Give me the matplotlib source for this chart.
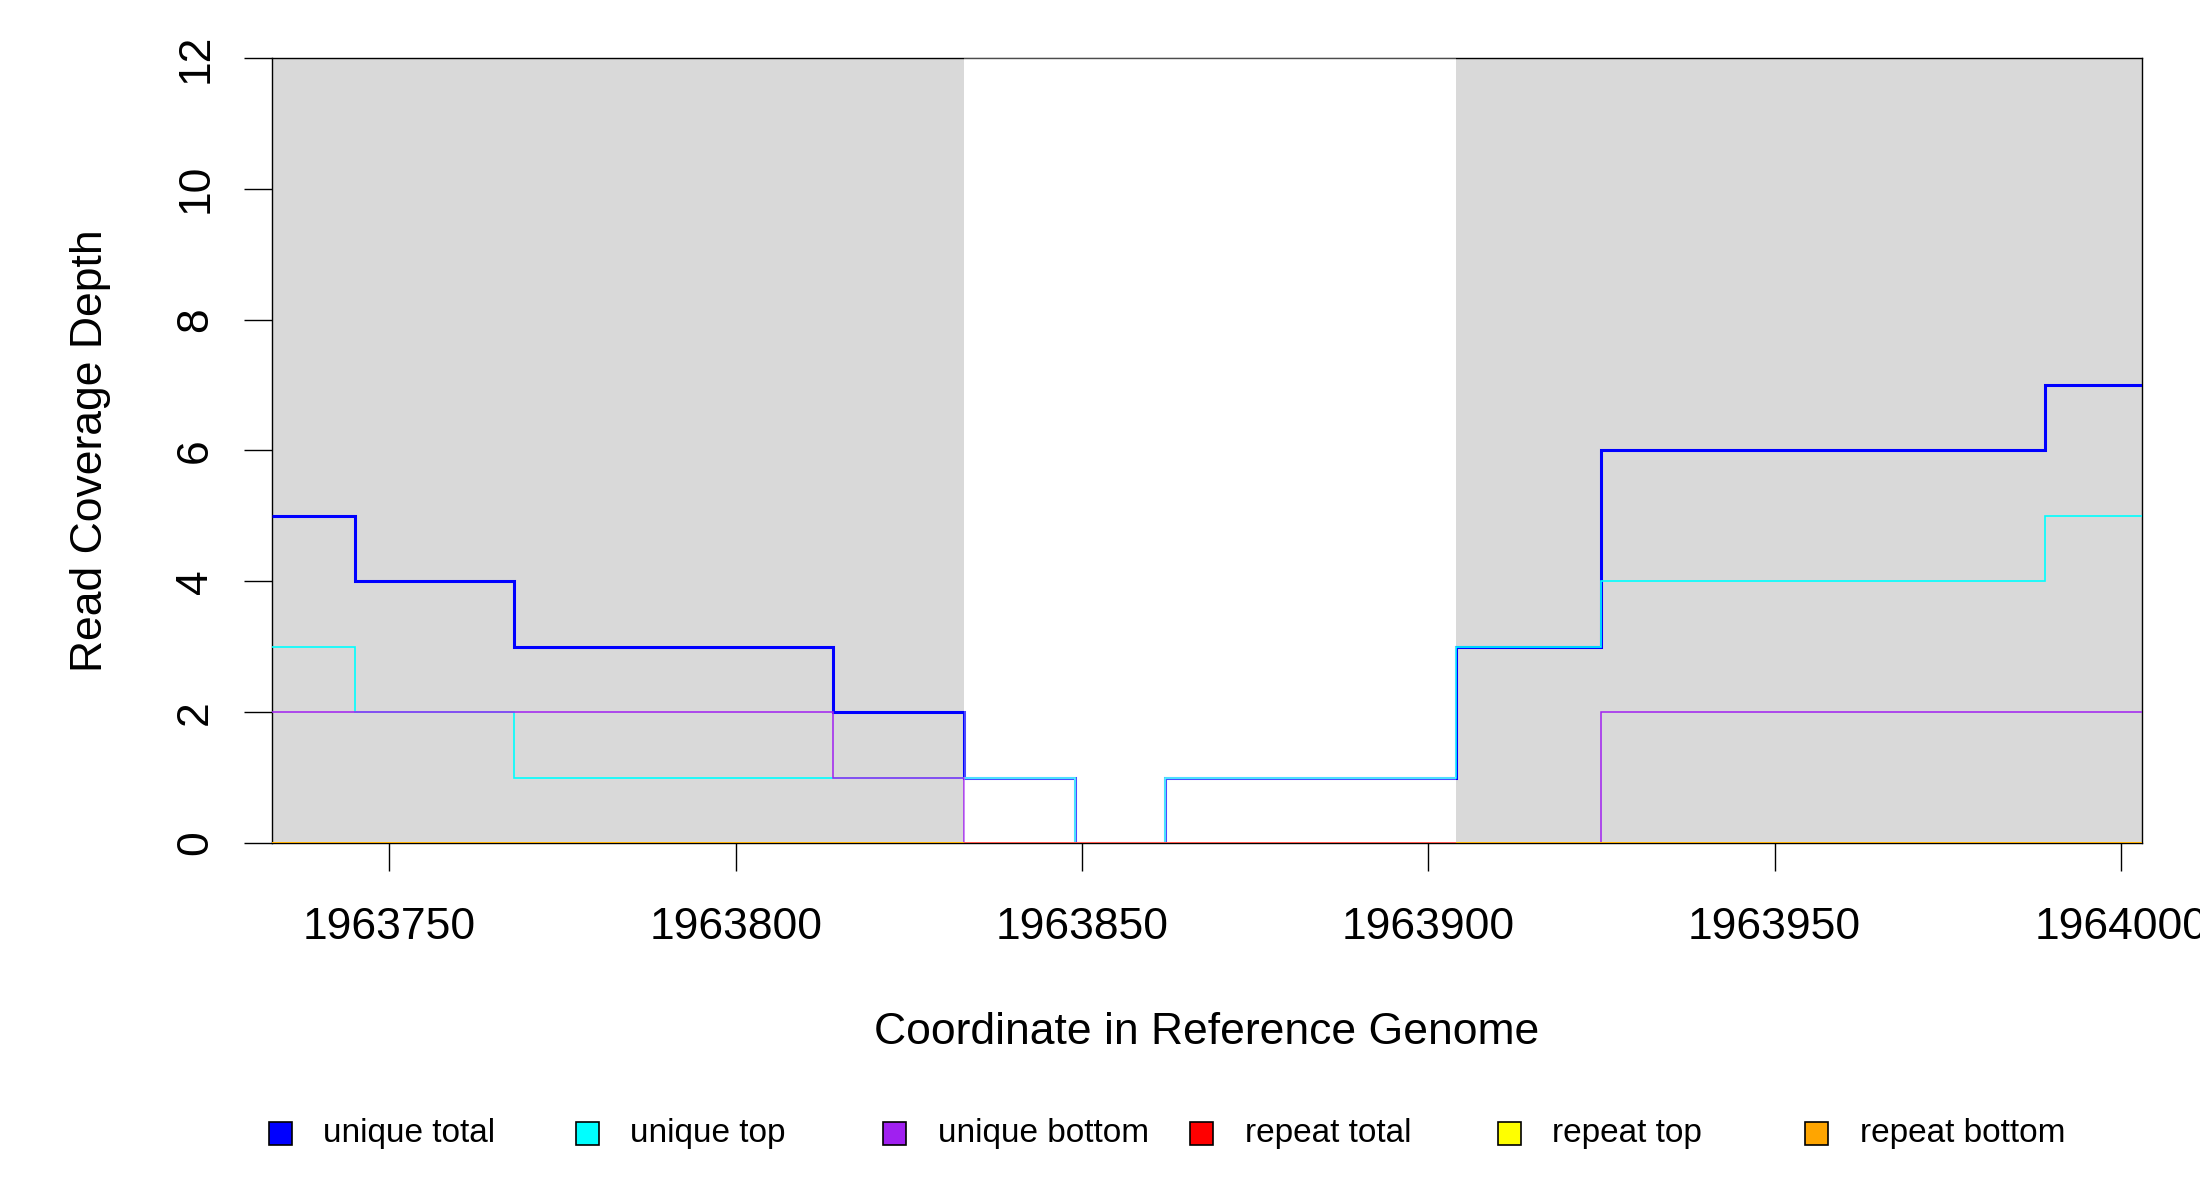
import matplotlib
matplotlib.use("Agg")
import matplotlib.pyplot as plt
from matplotlib.patches import Rectangle

plt.rcParams['font.family'] = ['Liberation Sans', 'DejaVu Sans']

# ---- data ----
edges = [1963733, 1963745, 1963768, 1963814, 1963833, 1963849,
         1963862, 1963904, 1963925, 1963989, 1964003]
unique_total = [5, 4, 3, 2, 1, 0, 1, 3, 6, 7]
unique_top = [3, 2, 1, 1, 1, 0, 1, 3, 4, 5]
unique_bottom = [2, 2, 2, 1, 0, 0, 0, 0, 2, 2]
repeat_total = [0, 0, 0, 0, 0, 0, 0, 0, 0, 0]
repeat_top = [0, 0, 0, 0, 0, 0, 0, 0, 0, 0]
repeat_bottom = [0, 0, 0, 0, 0, 0, 0, 0, 0, 0]

shade_starts = [1963733, 1963904]
shade_ends = [1963833, 1964003]

x_ticks = [1963750, 1963800, 1963850, 1963900, 1963950, 1964000]
y_ticks = [0, 2, 4, 6, 8, 10, 12]

series_labels = ["unique total", "unique top", "unique bottom",
                 "repeat total", "repeat top", "repeat bottom"]
series_colors = ["#0000FF", "#00FFFF", "#A020F0", "#FF0000", "#FFFF00", "#FFA500"]
series_widths = [2.2, 1.2, 1.1, 1.1, 1.1, 1.1]

# ---- figure ----
fig = plt.figure(figsize=(22, 12), dpi=100)
ax = fig.add_axes([0.1235, 0.2975, 0.85, 0.6542])

for s, e in zip(shade_starts, shade_ends):
    ax.axvspan(s, e, color="#D9D9D9", zorder=0.5, lw=0)

all_series = [unique_total, unique_top, unique_bottom,
              repeat_total, repeat_top, repeat_bottom]
for vals, col, lw in zip(all_series, series_colors, series_widths):
    ax.stairs(vals, edges, baseline=None, color=col, linewidth=lw, zorder=2)

# middle (unshaded) region: repeat total shows on top, lines appear lighter
i0 = edges.index(shade_ends[0])
i1 = edges.index(shade_starts[1])
ax.stairs(repeat_total[i0:i1], edges[i0:i1 + 1], baseline=None,
          color="#FF0000", linewidth=1.3, zorder=2.2)
ax.axvspan(shade_ends[0], shade_starts[1], color="white", alpha=0.3, zorder=3, lw=0)

ax.set_xlim(edges[0], edges[-1])
ax.set_ylim(y_ticks[0], y_ticks[-1])

for sp in ax.spines.values():
    sp.set_linewidth(1.0)
    sp.set_color("black")
    sp.set_zorder(1.5)

ax.set_xticks(x_ticks)
ax.set_xticklabels([str(t) for t in x_ticks])
ax.set_yticks(y_ticks)
ax.set_yticklabels([str(t) for t in y_ticks], rotation=90, va="center")
ax.tick_params(axis="both", direction="out", length=20, width=1.0,
               labelsize=32, colors="black")
ax.tick_params(axis="x", pad=26)
ax.tick_params(axis="y", pad=20)

ax.set_xlabel("Coordinate in Reference Genome", fontsize=32, va="center")
ax.xaxis.set_label_coords(0.5, -0.242)
ax.set_ylabel("Read Coverage Depth", fontsize=32, va="center")
ax.yaxis.set_label_coords(-0.0967, 0.5)

# ---- legend (R-style, equal column widths) ----
W, H = 2200.0, 1200.0
leg_y = 1133.5
x0 = 280.0
dx = 307.3
sq = 23.0
for i, (lab, col) in enumerate(zip(series_labels, series_colors)):
    cx = x0 + i * dx
    fig.patches.append(Rectangle(((cx - sq / 2) / W, 1 - (leg_y + sq / 2) / H),
                                 sq / W, sq / H, transform=fig.transFigure,
                                 facecolor=col, edgecolor="black", lw=1.2))
    fig.text((cx + 43) / W, 1 - leg_y / H, lab, fontsize=24,
             ha="left", va="center")

fig.savefig("out.png", dpi=100, facecolor="white")
